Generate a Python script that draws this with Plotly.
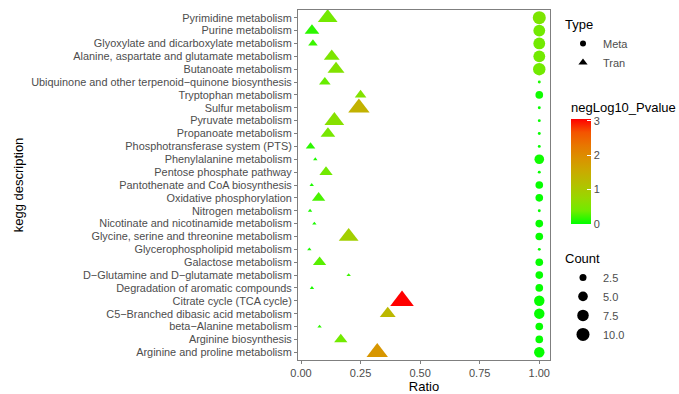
import plotly.graph_objects as go
import numpy as np

categories = [
    "Pyrimidine metabolism", "Purine metabolism", "Glyoxylate and dicarboxylate metabolism",
    "Alanine, aspartate and glutamate metabolism", "Butanoate metabolism",
    "Ubiquinone and other terpenoid\u2212quinone biosynthesis", "Tryptophan metabolism",
    "Sulfur metabolism", "Pyruvate metabolism", "Propanoate metabolism",
    "Phosphotransferase system (PTS)", "Phenylalanine metabolism", "Pentose phosphate pathway",
    "Pantothenate and CoA biosynthesis", "Oxidative phosphorylation", "Nitrogen metabolism",
    "Nicotinate and nicotinamide metabolism", "Glycine, serine and threonine metabolism",
    "Glycerophospholipid metabolism", "Galactose metabolism",
    "D\u2212Glutamine and D\u2212glutamate metabolism", "Degradation of aromatic compounds",
    "Citrate cycle (TCA cycle)", "C5\u2212Branched dibasic acid metabolism",
    "beta\u2212Alanine metabolism", "Arginine biosynthesis", "Arginine and proline metabolism",
]

tran_ratio = [0.112, 0.046, 0.050, 0.129, 0.147, 0.100, 0.250, 0.243, 0.140, 0.113,
              0.040, 0.060, 0.105, 0.045, 0.074, 0.038, 0.056, 0.200, 0.035, 0.078,
              0.200, 0.046, 0.424, 0.364, 0.078, 0.167, 0.320]
tran_count = [10, 5, 2, 6, 7, 3, 3, 12, 10, 5,
              2, 1, 4, 1, 4, 1, 1, 10, 1, 4,
              1, 1, 15, 6, 1, 4, 12]
tran_pval = [0.42, 0.15, 0.20, 0.50, 0.55, 0.35, 0.55, 1.40, 0.60, 0.45,
             0.15, 0.10, 0.40, 0.10, 0.25, 0.10, 0.10, 0.90, 0.10, 0.30,
             0.20, 0.10, 3.05, 1.30, 0.15, 0.40, 1.85]

meta_ratio = [1.0] * 27
meta_count = [10, 8, 8, 8, 9, 1, 3, 1, 1, 1,
              1, 5, 1, 3, 3, 1, 3, 3, 1, 3,
              3, 3, 6, 6, 3, 3, 6]
meta_pval = [0.50, 0.40, 0.40, 0.40, 0.40, 0.10, 0.05, 0.02, 0.02, 0.02,
             0.02, 0.05, 0.02, 0.02, 0.02, 0.02, 0.02, 0.02, 0.02, 0.02,
             0.02, 0.02, 0.02, 0.02, 0.02, 0.02, 0.02]

count_breaks = [2.5, 5.0, 7.5, 10.0]
count_labels = ["2.5", "5.0", "7.5", "10.0"]
x_ticks = [0, 0.25, 0.5, 0.75, 1.0]
color_ticks = [0, 1, 2, 3]


def diam(c):
    c = np.asarray(c, dtype=float)
    return 2.9 + 3.37 * np.sqrt(np.maximum(c - 1, 0))


colorscale = [
    [0.0, "rgb(0,255,0)"], [0.125, "rgb(112,235,0)"], [0.25, "rgb(152,215,0)"],
    [0.375, "rgb(179,193,0)"], [0.5, "rgb(201,171,0)"], [0.625, "rgb(218,146,0)"],
    [0.75, "rgb(232,118,0)"], [0.875, "rgb(244,83,0)"], [1.0, "rgb(255,0,0)"],
]

FONT = "Liberation Sans, Arial, sans-serif"

fig = go.Figure()

fig.add_trace(go.Scatter(
    x=meta_ratio, y=categories, mode="markers", showlegend=False, hoverinfo="skip",
    marker=dict(symbol="circle", size=diam(meta_count), color=meta_pval, opacity=1,
                coloraxis="coloraxis", line=dict(width=0)),
))
fig.add_trace(go.Scatter(
    x=tran_ratio, y=categories, mode="markers", showlegend=False, hoverinfo="skip",
    marker=dict(symbol="triangle-up", size=diam(tran_count) * 1.32, color=tran_pval, opacity=1,
                coloraxis="coloraxis", line=dict(width=0)),
))

# Type legend
fig.add_trace(go.Scatter(x=[None], y=[None], mode="markers", name="Meta", legend="legend",
                         marker=dict(symbol="circle", size=6, color="black")))
fig.add_trace(go.Scatter(x=[None], y=[None], mode="markers", name="Tran", legend="legend",
                         marker=dict(symbol="triangle-up", size=8, color="black")))
# Count legend
for cb, lab in zip(count_breaks, count_labels):
    fig.add_trace(go.Scatter(x=[None], y=[None], mode="markers", name=lab, legend="legend2",
                             marker=dict(symbol="circle", size=float(diam(cb)), color="black")))

fig.update_layout(
    width=679, height=394,
    margin=dict(l=298, r=129, t=10, b=34, autoexpand=False),
    paper_bgcolor="white", plot_bgcolor="white",
    font=dict(family=FONT, size=11, color="#4D4D4D"),
    xaxis=dict(
        range=[-0.0126, 1.045], tickvals=x_ticks, tickformat=".2f",
        showgrid=False, zeroline=False, showline=True, mirror=True,
        linecolor="#7F7F7F", linewidth=1, ticks="outside", ticklen=3,
        tickcolor="#7F7F7F", tickfont=dict(size=11, color="#4D4D4D"),
        title=dict(text="Ratio", font=dict(size=13, color="black"), standoff=1),
    ),
    yaxis=dict(
        type="category", categoryorder="array", categoryarray=categories[::-1],
        tickmode="array", tickvals=categories, ticktext=categories,
        range=[-0.6, 26.6], showgrid=False, zeroline=False, showline=True, mirror=True,
        linecolor="#7F7F7F", linewidth=1, ticks="outside", ticklen=3,
        tickcolor="#7F7F7F", tickfont=dict(size=10.9, color="#4D4D4D"),
        title=dict(text="kegg description", font=dict(size=13, color="black"), standoff=4),
    ),
    coloraxis=dict(
        colorscale=colorscale, cmin=0, cmax=max(tran_pval),
        colorbar=dict(
            title=dict(text="negLog10_Pvalue", side="top", font=dict(size=13, color="black")),
            x=(571 - 298) / 252, xanchor="left", y=(360 - 99) / 350, yanchor="top",
            lenmode="pixels", len=125, thickness=20, xpad=0, ypad=0,
            outlinewidth=0, tickvals=color_ticks, ticks="inside", ticklen=4,
            tickcolor="white", tickfont=dict(size=11, color="#4D4D4D"),
        ),
    ),
    legend=dict(
        title=dict(text="Type", font=dict(size=13, color="black")),
        x=(563 - 298) / 252, xanchor="left", y=(360 - 12) / 350, yanchor="top",
        bgcolor="rgba(0,0,0,0)", font=dict(size=11, color="#4D4D4D"),
        itemsizing="trace",
    ),
    legend2=dict(
        title=dict(text="Count", font=dict(size=13, color="black")),
        x=(563 - 298) / 252, xanchor="left", y=(360 - 246) / 350, yanchor="top",
        bgcolor="rgba(0,0,0,0)", font=dict(size=11, color="#4D4D4D"),
        itemsizing="trace",
    ),
)

fig.write_html("out.html", config={"displayModeBar": False},
               post_script="document.body.style.margin='0';")
